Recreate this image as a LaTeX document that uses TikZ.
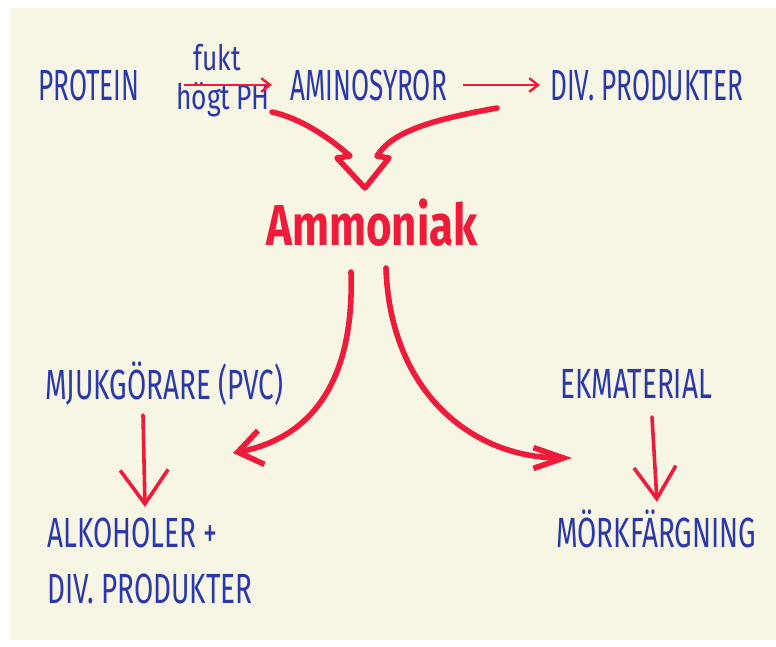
\documentclass[tikz,border=0pt]{standalone}
\usepackage{fontspec}
\newfontfamily\handfont{Fira Sans}[FakeStretch=0.6]
\newfontfamily\lowfont{Fira Sans}[FakeStretch=0.66]
\newfontfamily\notefont{Fira Sans}[FakeStretch=0.75]
\newfontfamily\redfont{Fira Sans}[FakeStretch=0.76]
\usepackage{tikz}
\usetikzlibrary{arrows.meta,positioning}
\definecolor{paper}{RGB}{247,245,228}
\definecolor{inkblue}{RGB}{42,56,170}
\definecolor{inkred}{RGB}{238,28,58}

\begin{document}
\begin{tikzpicture}[x=0.25mm, y=-0.25mm,
  word/.style={text=inkblue, font=\handfont\fontsize{31}{31}\selectfont, anchor=base west, inner sep=0pt},
  item/.style={word, font=\lowfont\fontsize{30}{30}\selectfont},
  note/.style={text=inkblue, font=\notefont\fontsize{25}{25}\selectfont, anchor=base, inner sep=0pt},
  slim/.style={draw=inkred, line width=0.6mm, -{Straight Barb[length=2.2mm,width=3.4mm]}},
  fat/.style={draw=inkred, line width=1.4mm, line cap=round, line join=round},
  drop/.style={draw=inkred, line width=0.9mm, line cap=round, line join=round}
]
\useasboundingbox (0,0) rectangle (776,646);
\fill[white] (0,0) rectangle (776,646);
\fill[paper] (10,8) rectangle (776,640);

\node[word] (protein) at (38,100) {PROTEIN};
\node[word] (amino) at (290,100) {AMINOSYROR};
\node[word] (divprod) at (550,100) {DIV. PRODUKTER};
\node[note] (fukt) at (217,70) {fukt};
\node[note] (hogt) at (223,109) {högt\,PH};
\node[text=inkred, font=\redfont\bfseries\fontsize{41}{41}\selectfont, anchor=base, inner sep=0pt] (ammoniak) at (372,245) {Ammoniak};
\node[item] (mjuk) at (45,399) {MJUKGÖRARE (PVC)};
\node[item] (alkohol) at (47,547) {ALKOHOLER +};
\node[item] (divprod2) at (47,603) {DIV. PRODUKTER};
\node[item] (ekmat) at (560,398) {EKMATERIAL};
\node[item] (mork) at (556,547) {MÖRKFÄRGNING};

\coordinate (vl) at (272,112);
\coordinate (vr) at (497,108);
\coordinate (al) at (351,272);
\coordinate (ar) at (386,268);
\coordinate (pl) at (233,453);
\coordinate (pr) at (572,458);
\coordinate (mt) at (143,415);
\coordinate (mb) at (145,507);
\coordinate (et) at (652,417);
\coordinate (eb) at (657,502);

\draw[slim, shorten <=11mm, shorten >=4.5mm] (protein) -- (amino);
\draw[slim, shorten <=4mm, shorten >=2.5mm] (amino) -- (divprod);
\draw[fat] (vl) .. controls (300,118) and (330,138) .. (350,156) -- (337,158) -- (365,188)
  -- (389,158) -- (377,156) .. controls (392,132) and (430,120) .. (vr);
\draw[fat, -{Straight Barb[length=6mm,width=8.6mm]}] (al) .. controls (355,395) and (300,440) .. (pl);
\draw[fat, -{Straight Barb[length=7.5mm,width=5.2mm]}] (ar) .. controls (390,390) and (470,458) .. (pr);
\draw[drop, -{Straight Barb[length=8.5mm,width=12mm]}] (mt) -- (mb);
\draw[drop, -{Straight Barb[length=8mm,width=10.5mm]}] (et) -- (eb);
\end{tikzpicture}
\end{document}
